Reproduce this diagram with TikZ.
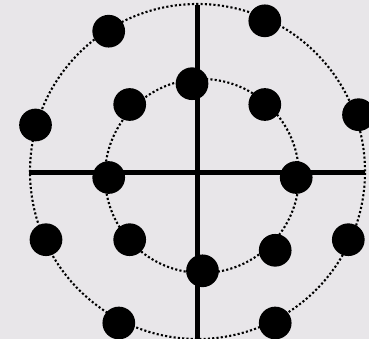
\documentclass[tikz,border=0pt]{standalone}
\usepackage{tikz}
\usetikzlibrary{positioning}
\definecolor{PaperGray}{RGB}{232,230,233}

\begin{document}
\begin{tikzpicture}[x=1pt, y=-1pt,
	pt/.style={circle, fill=black, minimum size=32.7pt, inner sep=0pt},
	ring/.style={line width=2.1pt, dash pattern=on 2.1pt off 2.2pt, black},
	ax/.style={line width=4.8pt, black}]

	% --- fondo ---
	\fill[PaperGray] (0,0) rectangle (369,339);
	\useasboundingbox (0,0) rectangle (369,339);

	% --- circulos ---
	\draw[ring] (197.5,171.5) circle[radius=167.5pt];
	\draw[ring] (202,176) circle[radius=97pt];

	% --- ejes ---
	\coordinate (west) at (29,172.3);
	\coordinate (east) at (365,172.3);
	\coordinate (north) at (197.5,5);
	\coordinate (south) at (197.5,339);
	\draw[ax] (west)--(east); \draw[ax] (north)--(south);

	% --- puntos, anillo interior ---
	\node[pt] (i1) at (192,83.7) {};
	\node[pt] (i2) at (264.8,104.5) {};
	\node[pt] (i3) at (296.2,177.5) {};
	\node[pt] (i4) at (275.2,250.3) {};
	\node[pt] (i5) at (202.5,270.8) {};
	\node[pt] (i6) at (129.7,239.7) {};
	\node[pt] (i7) at (108.7,177.5) {};
	\node[pt] (i8) at (129.7,104.5) {};

	% --- puntos, anillo exterior ---
	\node[pt] (o1) at (264.8,20.8) {};
	\node[pt] (o2) at (358.5,114.7) {};
	\node[pt] (o3) at (348.3,239.7) {};
	\node[pt] (o4) at (275.2,323) {};
	\node[pt] (o5) at (118.8,323) {};
	\node[pt] (o6) at (46,239.7) {};
	\node[pt] (o7) at (35.5,125) {};
	\node[pt] (o8) at (108.7,31.2) {};
\end{tikzpicture}
\end{document}
